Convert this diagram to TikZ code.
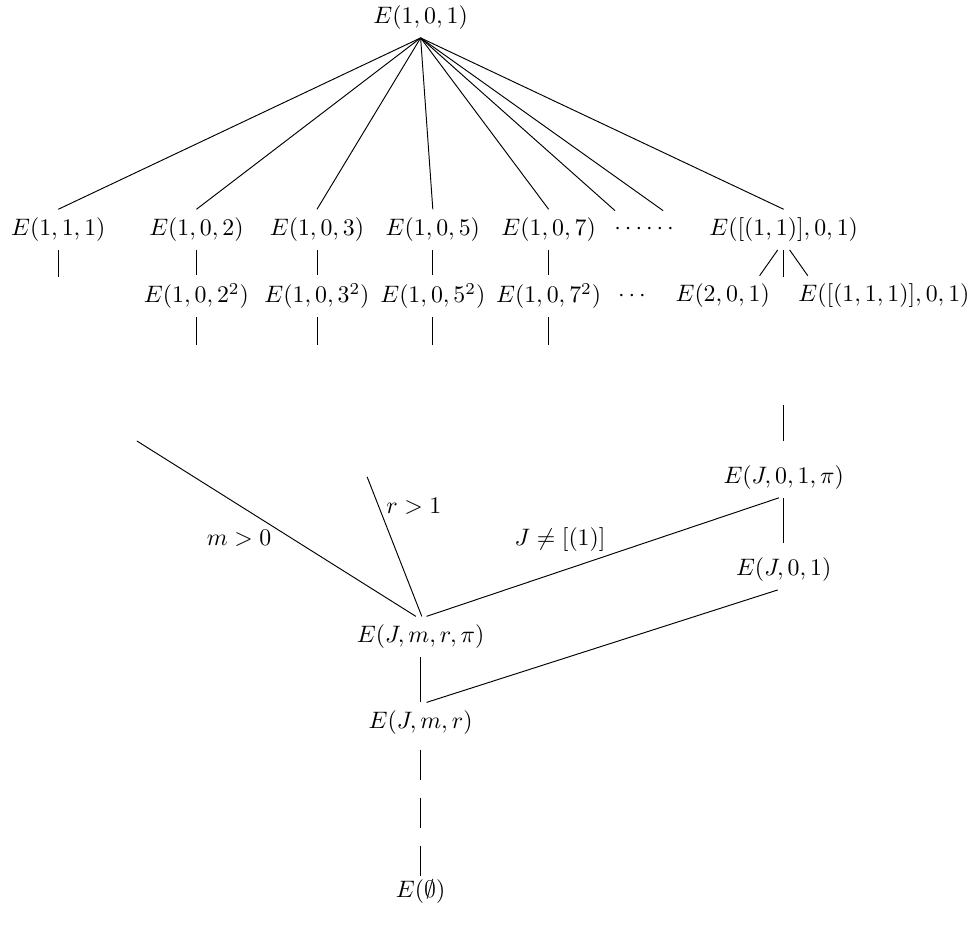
\documentclass[tikz,border=0pt]{standalone}
\begin{document}
\begin{tikzpicture}[dashline/.style={dash pattern=on 12.6pt off 7.6pt}]
\useasboundingbox (0,0) rectangle (14.38,13.68);
\node (top) at (6.21,13.42) {$E(1,0,1)$};
\node (r1a) at (0.86,10.29) {$E(1,1,1)$};
\node (r1b) at (2.90,10.29) {$E(1,0,2)$};
\node (r1c) at (4.68,10.29) {$E(1,0,3)$};
\node (r1d) at (6.39,10.29) {$E(1,0,5)$};
\node (r1e) at (8.10,10.29) {$E(1,0,7)$};
\node (dots1) at (9.51,10.30) {$\cdots\cdots$};
\node (r1f) at (11.57,10.29) {$E([(1,1)],0,1)$};
\coordinate (d1) at (9.08,10.57);
\coordinate (d2) at (9.79,10.57);
\coordinate (a1) at (0.86,9.59);
\node (r2b) at (2.90,9.31) {$E(1,0,2^2)$};
\node (r2c) at (4.68,9.31) {$E(1,0,3^2)$};
\node (r2d) at (6.39,9.31) {$E(1,0,5^2)$};
\node (r2e) at (8.10,9.31) {$E(1,0,7^2)$};
\node (dots2) at (9.33,9.30) {$\cdots$};
\node (r2f) at (10.67,9.31) {$E(2,0,1)$};
\node (r2g) at (13.05,9.31) {$E([(1,1,1)],0,1)$};
\coordinate (b2) at (2.90,8.59);
\coordinate (c2) at (4.68,8.59);
\coordinate (d3) at (6.39,8.59);
\coordinate (e2) at (8.10,8.59);
\coordinate (f1) at (11.57,9.59);
\coordinate (g0) at (11.57,7.70);
\node (jopi) at (11.57,6.63) {$E(J,0,1,\pi)$};
\node (jo) at (11.57,5.27) {$E(J,0,1)$};
\coordinate (m0) at (2.02,7.17);
\coordinate (r0) at (5.42,6.64);
\node (jmrpi) at (6.21,4.28) {$E(J,m,r,\pi)$};
\node (jmr) at (6.21,3.01) {$E(J,m,r)$};
\node (empty) at (6.21,0.52) {$E(\emptyset)$};
\node (lm) at (3.53,5.74) {$m>0$};
\node (lr) at (6.11,6.20) {$r>1$};
\node (lJ) at (8.27,5.71) {$J\neq[(1)]$};
\path
  (top.south) edge (r1a.north)
  (top.south) edge (r1b.north)
  (top.south) edge (r1c.north)
  (top.south) edge (r1d.north)
  (top.south) edge (r1e.north)
  (top.south) edge (d1)
  (top.south) edge (d2)
  (top.south) edge (r1f.north)
  (r1a) edge (a1)
  (r1b) edge (r2b)
  (r1c) edge (r2c)
  (r1d) edge (r2d)
  (r1e) edge (r2e)
  (r2b) edge (b2)
  (r2c) edge (c2)
  (r2d) edge (d3)
  (r2e) edge (e2)
  ([xshift=-2.5pt]r1f.south) edge ([xshift=15.5pt]r2f.north)
  (r1f) edge (f1)
  ([xshift=2.5pt]r1f.south) edge ([xshift=-32pt]r2g.north)
  (g0) edge [shorten >=7pt] (jopi)
  (jopi) edge [shorten >=2.5pt] (jo)
  (m0) edge ([xshift=-2pt]jmrpi.north)
  (r0) edge ([xshift=0.5pt]jmrpi.north)
  ([xshift=-2pt]jopi.south) edge ([xshift=2.5pt]jmrpi.north)
  (jmrpi) edge (jmr)
  ([xshift=2.5pt]jmr.north) edge ([xshift=-2.5pt]jo.south)
  (jmr) edge [dashline, shorten <=3pt, shorten >=-2pt] (empty)
;
\end{tikzpicture}
\end{document}
